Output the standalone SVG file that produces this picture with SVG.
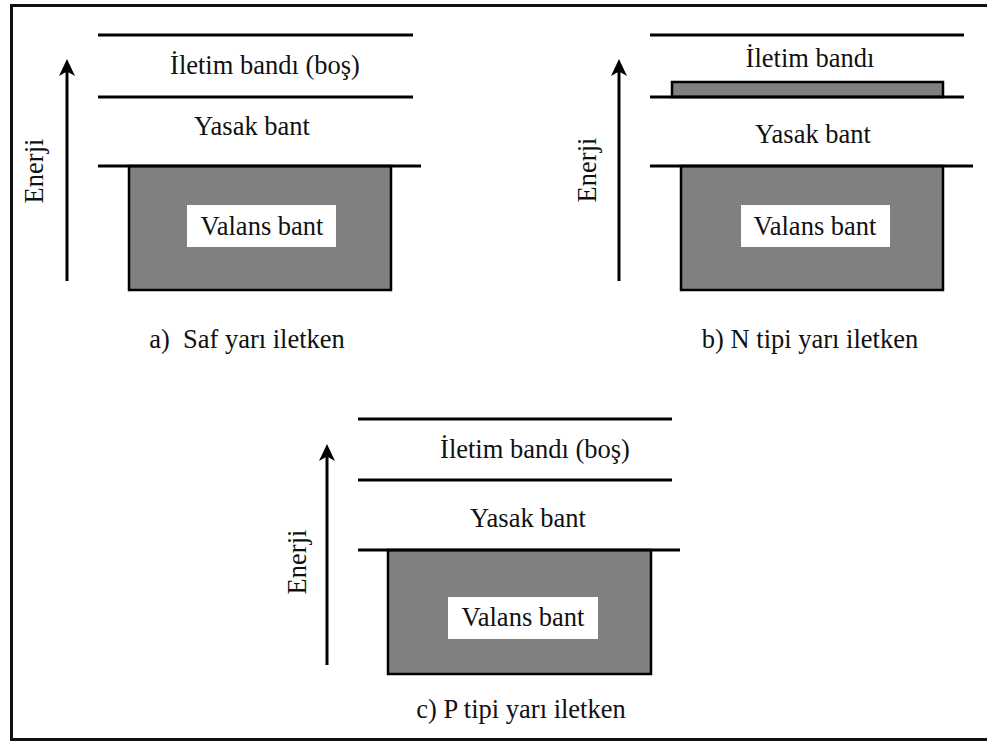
<svg xmlns="http://www.w3.org/2000/svg" width="987" height="742" viewBox="0 0 987 742">
<defs>
<style>
.band{stroke:#000;stroke-width:3;fill:none}
.val{fill:#808080;stroke:#000;stroke-width:2.5}
.box{fill:#fff;stroke:none}
.t{font-family:"Liberation Serif","Times New Roman",serif;font-size:26.5px;fill:#111;text-anchor:middle}
.ax{stroke:#000;stroke-width:3;fill:none}
.head{fill:#000}
</style>
</defs>
<rect x="0" y="0" width="987" height="742" fill="#fff"/>
<path d="M11.5,740 L11.5,5.5 L990,5.5 M10,739.5 L990,739.5" stroke="#111" stroke-width="3" fill="none"/>

<g id="panel-a">
<line class="band" x1="98" y1="35" x2="413" y2="35"/>
<line class="band" x1="98" y1="97" x2="413" y2="97"/>
<rect class="val" x="129" y="166" width="262" height="124"/>
<line class="band" x1="98" y1="166" x2="421" y2="166"/>
<rect class="box" x="187" y="205" width="149" height="42"/>
<text class="t" x="265" y="74">İletim bandı (boş)</text>
<text class="t" x="252" y="135">Yasak bant</text>
<text class="t" x="262" y="235">Valans bant</text>
<text class="t" x="247" y="348" xml:space="preserve">a)  Saf yarı iletken</text>
<text class="t" transform="translate(43,171) rotate(-90)">Enerji</text>
</g>

<g id="panel-b">
<line class="band" x1="650" y1="35" x2="964" y2="35"/>
<rect class="val" x="672" y="82" width="271" height="15"/>
<line class="band" x1="650" y1="97" x2="964" y2="97"/>
<rect class="val" x="681" y="166" width="262" height="124"/>
<line class="band" x1="650" y1="166" x2="973" y2="166"/>
<rect class="box" x="741" y="205" width="149" height="42"/>
<text class="t" x="810" y="67">İletim bandı</text>
<text class="t" x="813" y="143">Yasak bant</text>
<text class="t" x="815" y="235">Valans bant</text>
<text class="t" x="810" y="348">b) N tipi yarı iletken</text>
<text class="t" transform="translate(596,170) rotate(-90)">Enerji</text>
</g>

<g id="panel-c">
<line class="band" x1="358" y1="419" x2="672" y2="419"/>
<line class="band" x1="358" y1="480" x2="672" y2="480"/>
<rect class="val" x="388" y="550" width="263" height="124"/>
<line class="band" x1="358" y1="550" x2="680" y2="550"/>
<rect class="box" x="448" y="597" width="150" height="42"/>
<text class="t" x="535" y="458">İletim bandı (boş)</text>
<text class="t" x="528" y="527">Yasak bant</text>
<text class="t" x="523" y="626">Valans bant</text>
<text class="t" x="521" y="718">c) P tipi yarı iletken</text>
<text class="t" transform="translate(306,562) rotate(-90)">Enerji</text>
</g>

<g id="connectors">
<line class="ax" x1="67" y1="281" x2="67" y2="70"/>
<path class="head" d="M67,59 L75,76 L67,71.5 L59,76 Z"/>
<line class="ax" x1="619" y1="281" x2="619" y2="70"/>
<path class="head" d="M619,59 L627,76 L619,71.5 L611,76 Z"/>
<line class="ax" x1="327" y1="665" x2="327" y2="455"/>
<path class="head" d="M327,444 L335,461 L327,456.5 L319,461 Z"/>
</g>
</svg>
